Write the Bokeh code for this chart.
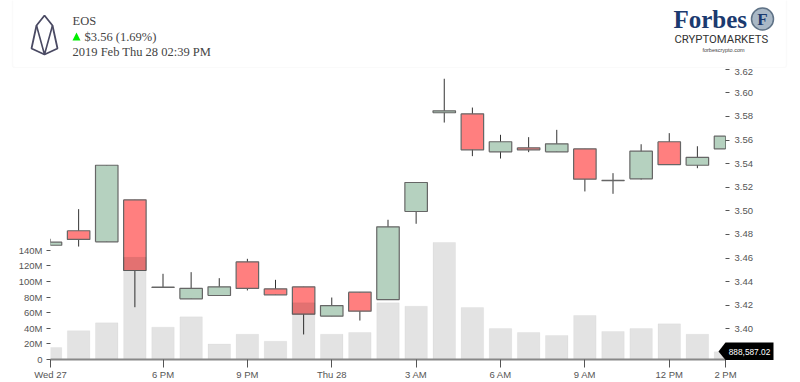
from bokeh.plotting import figure
from bokeh.embed import file_html
from bokeh.resources import INLINE
from bokeh.layouts import column
from bokeh.core.properties import value
from bokeh.models import (ColumnDataSource, Range1d, LinearAxis, FixedTicker, PrintfTickFormatter, BoxAnnotation)

tick_hours = [0, 4, 7, 10, 13, 16, 19, 22, 24]
tick_labels = ["Wed 27", "6 PM", "9 PM", "Thu 28", "3 AM", "6 AM", "9 AM", "12 PM", "2 PM"]
hours = list(range(25))
opens = [3.4708, 3.4831, 3.4737, 3.5093, 3.4353, 3.4254, 3.4282, 3.4568, 3.4339, 3.4356, 3.4107, 3.4310, 3.4248,
         3.4994, 3.5831, 3.5822, 3.5500, 3.5534, 3.5500, 3.5525, 3.5257, 3.5271, 3.5585, 3.5386, 3.5525]
closes = [3.4734, 3.4757, 3.5386, 3.4494, 3.4350, 3.4342, 3.4356, 3.4342, 3.4288, 3.4124, 3.4197, 3.4149, 3.4864,
          3.5240, 3.5847, 3.5517, 3.5585, 3.5517, 3.5568, 3.5268, 3.5255, 3.5505, 3.5392, 3.5452, 3.5632]
highs = [3.4763, 3.5014, 3.5386, 3.5093, 3.4466, 3.4480, 3.4429, 3.4593, 3.4415, 3.4356, 3.4265, 3.4310, 3.4924,
         3.5240, 3.6119, 3.5875, 3.5644, 3.5624, 3.5686, 3.5525, 3.5319, 3.5564, 3.5658, 3.5547, 3.5632]
lows = [3.4708, 3.4697, 3.4737, 3.4183, 3.4350, 3.4254, 3.4282, 3.4325, 3.4288, 3.3952, 3.4107, 3.4070, 3.4248,
        3.4890, 3.5748, 3.5463, 3.5443, 3.5497, 3.5500, 3.5164, 3.5144, 3.5265, 3.5392, 3.5361, 3.5525]
volumes = [15.4, 37, 47, 131, 41.5, 54.7, 20, 32.5, 23.5, 72.6, 32.5, 34.6, 72.6,
           68.4, 150, 66.7, 39.7, 34.6, 30.8, 56.4, 35.9, 39.7, 45.7, 32.5, 10]
price_ticks = [3.40, 3.42, 3.44, 3.46, 3.48, 3.50, 3.52, 3.54, 3.56, 3.58, 3.60, 3.62]
volume_ticks = [0, 20, 40, 60, 80, 100, 120, 140]
last_volume_text = "888,587.02"

GREEN, RED = "#b5d1bf", "#ff7f7f"
colors = [GREEN if c >= o else RED for o, c in zip(opens, closes)]
LAST = tick_hours[-1]
HW = 0.4
lefts = [x - HW for x in hours]
rights = [min(x + HW, LAST) for x in hours]
outline_x = [[l, r, r, l, l] if x + HW <= LAST else [r, l, l, r] for x, l, r in zip(hours, lefts, rights)]
outline_y = [[o, o, c, c, o] if x + HW <= LAST else [o, o, c, c] for x, o, c in zip(hours, opens, closes)]
src = ColumnDataSource(dict(x=hours, o=opens, c=closes, h=highs, l=lows, v=volumes, col=colors,
                            left=lefts, right=rights, ox=outline_x, oy=outline_y))

TOP, BOTTOM, LEFT = 68, 359, 50
PX_H, PX_P = 28.125, 1180
def X(x):
    return (x - LEFT) / PX_H
def Y(y):
    return 3.40 + (328.3 - y) / PX_P

p = figure(width=800, height=382 - TOP, output_backend="svg", toolbar_location=None, frame_align=False,
           x_range=Range1d(X(LEFT), X(800)), y_range=Range1d(Y(BOTTOM), Y(TOP)), y_axis_location="right",
           min_border_left=LEFT, min_border_right=0, min_border_top=0, min_border_bottom=382 - BOTTOM,
           background_fill_color="white", outline_line_color=None)
p.grid.visible = False
p.extra_y_ranges = {"vol": Range1d(0, (BOTTOM - TOP) / 0.78)}

p.segment("x", "h", "x", "l", source=src, line_color="#333333", line_width=1)
p.quad(left="left", right="right", top="o", bottom="c", source=src, fill_color="col", line_color=None)
p.multi_line("ox", "oy", source=src, line_color="#666666", line_width=1.2)
p.quad(left="left", right="right", bottom=0, top="v", source=src, y_range_name="vol", fill_color="black",
       fill_alpha=0.11, line_color="black", line_alpha=0.03, line_width=1)

FONT = "Liberation Sans"
AX = "#555555"
def style(a):
    a.axis_line_color = None
    a.major_tick_line_color = AX
    a.major_tick_in = 0
    a.major_tick_out = 4
    a.minor_tick_line_color = None
    a.major_label_text_font = FONT
    a.major_label_text_font_size = "9.5px"
    a.major_label_text_color = AX

ry = p.yaxis[0]
style(ry)
ry.ticker = FixedTicker(ticks=price_ticks)
ry.major_label_overrides = {t: f"{t:.2f}" for t in price_ticks}
ry.major_label_standoff = 5
ry.fixed_location = LAST

ly = LinearAxis(y_range_name="vol", ticker=FixedTicker(ticks=volume_ticks),
                formatter=PrintfTickFormatter(format="%dM"))
style(ly)
ly.major_label_overrides = {0: "0"}
ly.major_label_standoff = 4
p.add_layout(ly, "left")

ax = p.xaxis[0]
style(ax)
ax.ticker = FixedTicker(ticks=tick_hours)
ax.major_label_overrides = dict(zip(tick_hours, tick_labels))
ax.axis_line_color = "#888888"
ax.axis_line_width = 2
ax.major_tick_out = 8
ax.major_label_standoff = 1
ax.bounds = (0, LAST)

# last-value tag
tag_xs = [718, 725, 773, 773, 725]
tag_ys = [351, 342, 342, 359.5, 359.5]
p.patch([X(a) for a in tag_xs], [Y(b) for b in tag_ys], fill_color="black", line_color=None, level="overlay")
p.text([X(749)], [Y(351)], text=[last_volume_text], text_font=value(FONT), text_font_size="8.3px",
       text_color="white", text_align="center", text_baseline="middle", level="overlay")

# header
h = figure(width=800, height=TOP, output_backend="svg", toolbar_location=None, frame_align=False,
           x_range=Range1d(0, 800), y_range=Range1d(TOP, 0), x_axis_location=None, y_axis_location=None,
           min_border=0, min_border_left=0, min_border_right=0, min_border_top=0, min_border_bottom=0,
           outline_line_color=None)
h.grid.visible = False
h.add_layout(BoxAnnotation(left=12, right=786, top=-6, bottom=67.2, fill_color="white", fill_alpha=1,
                           line_color="#efefef", line_width=1.5, border_radius=3, level="underlay"))

LOGO = "#4a4a63"
logo_x = [44, 36, 31, 44, 57, 52, 44]
logo_y = [15, 25, 48, 54, 48, 25, 15]
inner_x = [36, 44, 52]
inner_y = [25, 54, 25]
h.line(logo_x, logo_y, line_color=LOGO, line_width=1.8)
h.line(inner_x, inner_y, line_color=LOGO, line_width=1.6)
h.patch([72, 80, 76], [40, 40, 32], fill_color="#00ee00", line_color=None)

def label(x, y, text, size, color, font="Liberation Serif", style_="normal", align="left"):
    h.text([x], [y], text=[text], text_font=value(font), text_font_size=size, text_color=color,
           text_font_style=style_, text_baseline="middle", text_align=align)

label(72, 20, "EOS", "12.5px", "#444444")
label(84, 36, "$3.56 (1.69%)", "12.5px", "#444444")
label(72, 51, "2019 Feb Thu 28 02:39 PM", "12.5px", "#444444")

NAVY = "#1b3a6f"
label(673, 19, "Forbes", "25px", NAVY, style_="bold")
h.circle([762], [18.5], radius=11, fill_color="#a9b8c6", line_color="#5f7286", line_width=1.5)
label(762, 19, "F", "17px", NAVY, style_="bold", align="center")
label(674, 38.5, "CRYPTOMARKETS", "11.3px", "#333333", font="Roboto")
label(723, 49, "forbescrypto.com", "5.5px", "#444444", font="Liberation Sans", align="center")

layout = column(h, p, spacing=0)
open("out.html", "w").write(file_html(layout, INLINE))
